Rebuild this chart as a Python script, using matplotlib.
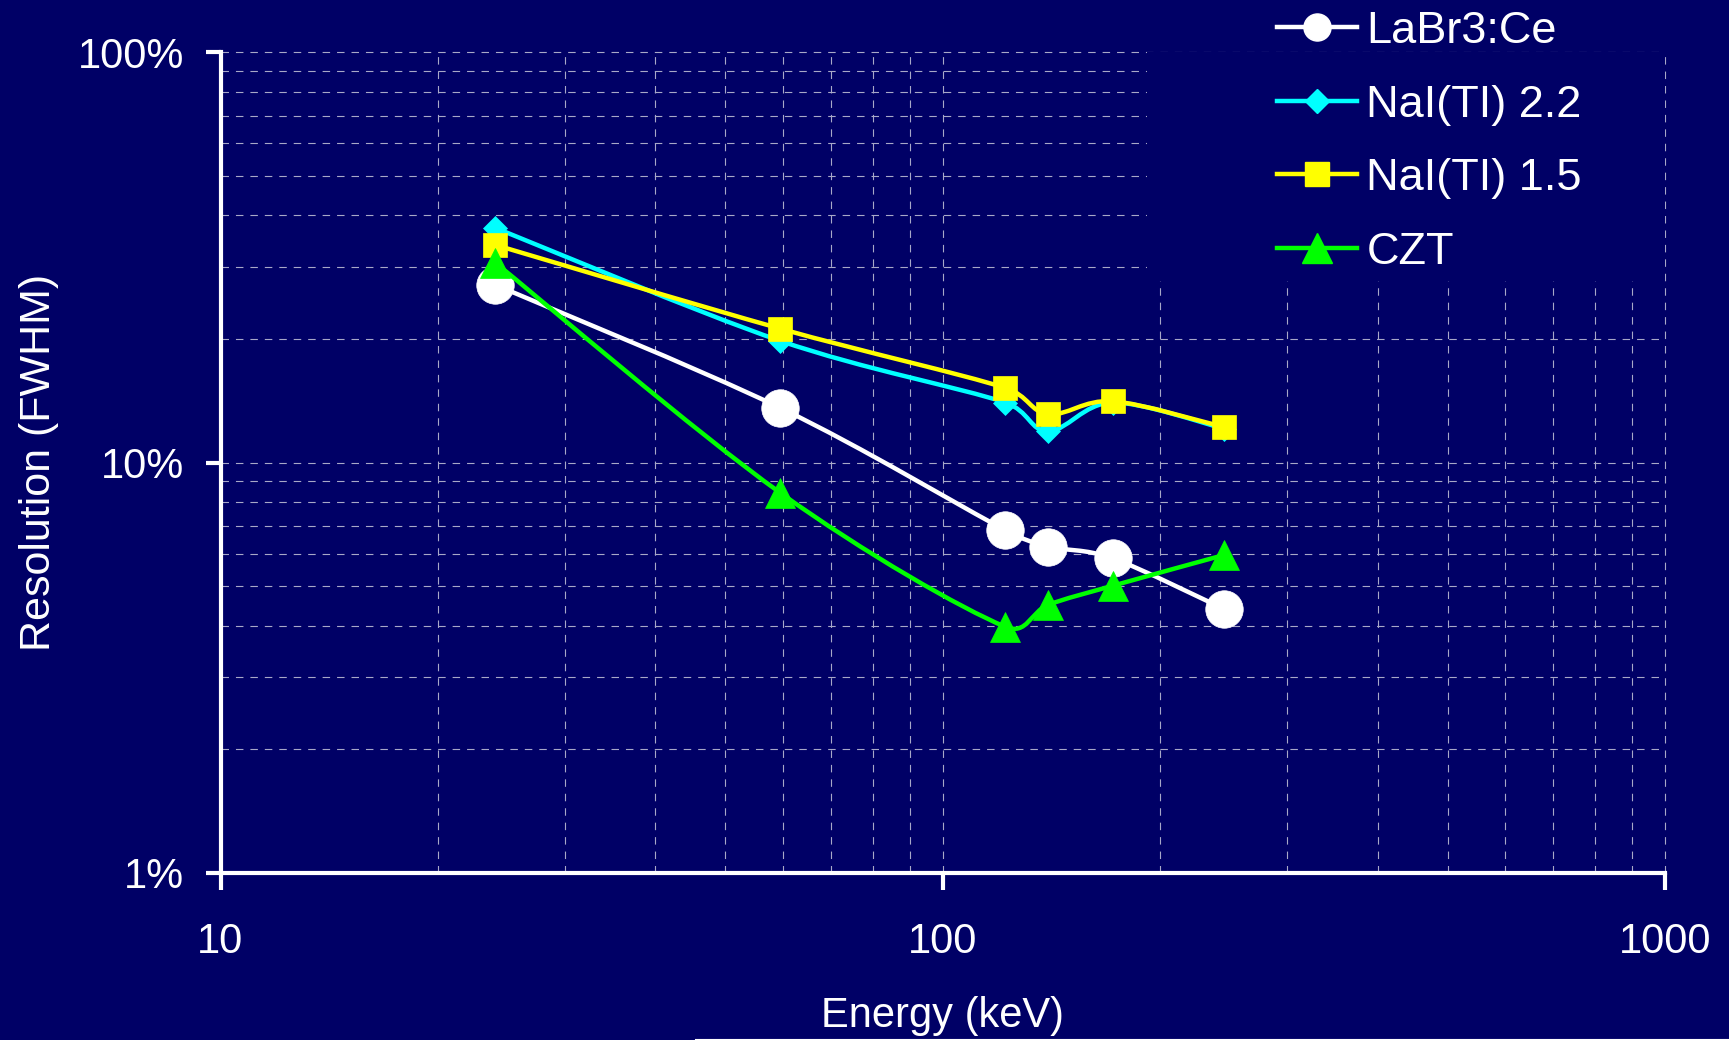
import numpy as np
import matplotlib
matplotlib.use("Agg")
import matplotlib.pyplot as plt
from matplotlib.path import Path
from matplotlib.patches import PathPatch, Rectangle
from matplotlib.lines import Line2D
from matplotlib.ticker import FixedLocator, FuncFormatter, NullFormatter

# ---------------- data ----------------
energy_kev = [24, 59.5, 122, 140, 172, 245]
labbr3_ce = [27.1, 13.6, 6.85, 6.24, 5.84, 4.40]
nai_22 = [37.3, 19.8, 14.0, 11.9, 14.0, 12.1]
nai_15 = [33.9, 21.2, 15.2, 13.1, 14.1, 12.2]
czt = [30.7, 8.45, 3.98, 4.50, 5.01, 5.95]

series_names = ["LaBr3:Ce", "NaI(TI) 2.2", "NaI(TI) 1.5", "CZT"]
series_values = [labbr3_ce, nai_22, nai_15, czt]
x_ticks = [10, 100, 1000]
y_ticks = [1, 10, 100]

# ---------------- style ----------------
BG = "#000066"
GRID = "#a8a8c8"
colors = ["#ffffff", "#00ffff", "#ffff00", "#00ff00"]
markers = ["o", "D", "s", "^"]
msizes = [27, 11.8, 17, 22]
leg_msizes = [19.5, 11.8, 17, 22]
LW = 3.2

plt.rcParams["font.family"] = ["Liberation Sans", "DejaVu Sans"]
plt.rcParams["lines.scale_dashes"] = False

fig = plt.figure(figsize=(17.29, 10.40), dpi=100, facecolor=BG)
W, H = 1729, 1040
ax = fig.add_axes([220.5 / W, 1 - 873 / H, (1665 - 220.5) / W, (873 - 52) / H])
ax.set_facecolor(BG)
ax.set_xscale("log")
ax.set_yscale("log")
ax.set_xlim(10, 1000)
ax.set_ylim(1, 100)
ax.set_axisbelow(True)

# ticks
ax.xaxis.set_major_locator(FixedLocator(x_ticks))
ax.yaxis.set_major_locator(FixedLocator(y_ticks))
ax.xaxis.set_major_formatter(FuncFormatter(lambda v, p: f"{v:g}"))
ax.yaxis.set_major_formatter(FuncFormatter(lambda v, p: f"{v:g}%"))
ax.xaxis.set_minor_formatter(NullFormatter())
ax.yaxis.set_minor_formatter(NullFormatter())

# grid
ax.grid(True, which="both", color=GRID, linewidth=0.8, linestyle=(0, (5.4, 5.0)))
for t in ax.xaxis.get_major_ticks() + ax.yaxis.get_major_ticks():
    t.gridline.set_clip_on(False)

# cover of grid under legend area (legend box fill)
cover = Rectangle((1147 / W, 1 - 281 / H), 1 - 1147 / W, 281 / H,
                  transform=fig.transFigure, facecolor=BG, edgecolor="none",
                  zorder=1)
ax.add_patch(cover)


def smooth_path(xs, ys):
    """Excel-style smoothed line: cubic Bezier segments whose control points
    come from neighbouring points (1/6 rule, limited to half the segment),
    computed in display space."""
    P = ax.transData.transform(np.column_stack([xs, ys]))
    n = len(P)
    verts = [P[0]]
    codes = [Path.MOVETO]
    for i in range(n - 1):
        p0 = P[i - 1] if i > 0 else P[i]
        p1 = P[i]
        p2 = P[i + 1]
        p3 = P[i + 2] if i + 2 < n else P[i + 1]
        d12 = np.hypot(*(p2 - p1))
        t1 = (p2 - p0) / 6.0
        t2 = (p3 - p1) / 6.0
        l1 = np.hypot(*t1)
        l2 = np.hypot(*t2)
        if l1 > d12 / 2 and l1 > 0:
            t1 = t1 * (d12 / 2) / l1
        if l2 > d12 / 2 and l2 > 0:
            t2 = t2 * (d12 / 2) / l2
        verts += [p1 + t1, p2 - t2, p2]
        codes += [Path.CURVE4] * 3
    verts = ax.transData.inverted().transform(np.array(verts))
    return Path(verts, codes)


z = 3
for vals, c, m, ms in zip(series_values, colors, markers, msizes):
    patch = PathPatch(smooth_path(energy_kev, vals), facecolor="none",
                      edgecolor=c, linewidth=LW, transform=ax.transData,
                      zorder=z, capstyle="round", joinstyle="round")
    ax.add_patch(patch)
    ax.plot(energy_kev, vals, linestyle="none", marker=m, markersize=ms,
            markerfacecolor=c, markeredgecolor=c, markeredgewidth=0.5,
            zorder=z + 0.5, clip_on=False)
    z += 1

# spines
for s in ["top", "right"]:
    ax.spines[s].set_visible(False)
for s in ["left", "bottom"]:
    ax.spines[s].set_color("white")
    ax.spines[s].set_linewidth(3)
    ax.spines[s].set_zorder(10)

ax.tick_params(which="minor", length=0)
ax.tick_params(axis="x", which="major", direction="out", length=12, width=3,
               color="white", labelcolor="white", labelsize=30, pad=23)
ax.tick_params(axis="y", which="major", direction="out", length=11, width=3,
               color="white", labelcolor="white", labelsize=30, pad=15)

ax.set_xlabel("Energy (keV)", color="white", fontsize=30)
ax.set_ylabel("Resolution (FWHM)", color="white", fontsize=31)
ax.xaxis.set_label_coords(0.5, -0.1498)
ax.yaxis.set_label_coords(-0.112, 0.5)

# legend
handles = [Line2D([], [], color=c, linewidth=LW, marker=m, markersize=ms,
                  markerfacecolor=c, markeredgecolor=c)
           for c, m, ms in zip(colors, markers, leg_msizes)]
fig.legend(handles, series_names, loc="upper left",
           bbox_to_anchor=(1277 / W, 1 - 11 / H), frameon=False,
           fontsize=32.5, labelcolor="white", handlelength=1.78,
           handletextpad=0.2, labelspacing=0.72, borderpad=0,
           borderaxespad=0)

# thin line at the bottom edge
fig.add_artist(Line2D([695 / W, 1], [1.3 / H, 1.3 / H], color="white",
                      linewidth=0.8, transform=fig.transFigure))

fig.savefig("out.png", dpi=100, facecolor=BG)
